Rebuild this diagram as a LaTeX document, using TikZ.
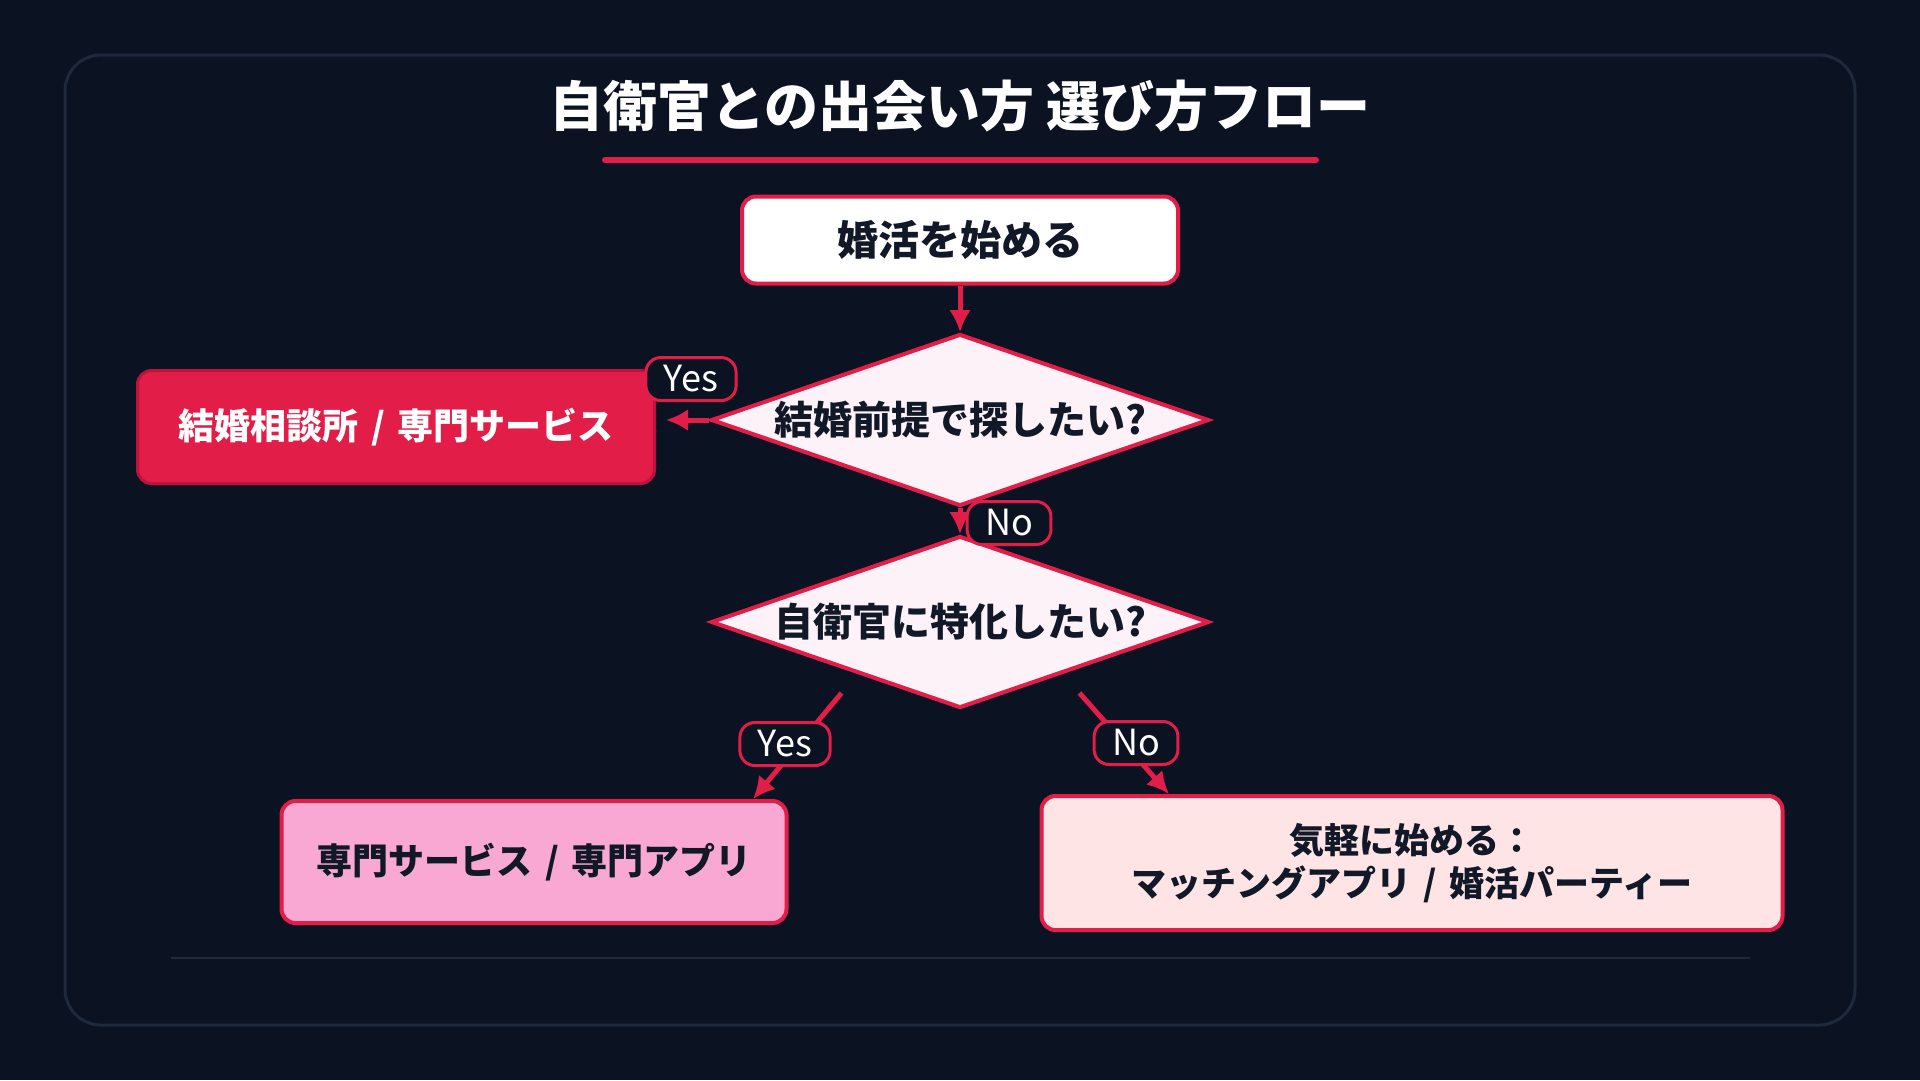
\documentclass[tikz,border=0pt]{standalone}
\usepackage{fontspec}
\setmainfont{Noto Sans CJK JP}
\usetikzlibrary{shapes.geometric,arrows.meta}

\definecolor{bgdark}{HTML}{0B1222}
\definecolor{frameline}{HTML}{1E293B}
\definecolor{rosered}{HTML}{E11D48}
\definecolor{rosedark}{HTML}{BE123C}
\definecolor{pinkpale}{HTML}{FDF2F8}
\definecolor{pinkmid}{HTML}{F9A8D4}
\definecolor{roselight}{HTML}{FFE4E6}
\definecolor{inkdark}{HTML}{111827}

\newcommand{\slashsep}{\hspace{0.36em}/\hspace{0.36em}}

\begin{document}
\begin{tikzpicture}[x=1pt, y=-1pt, node distance=180pt]
    \tikzset{
    box/.style={
        rectangle,
        draw=rosered,
        line width=4pt,
        rounded corners=14pt,
        align=center,
        text=inkdark,
        font=\bfseries\fontsize{36}{43}\selectfont
    },
    choice/.style={
        diamond,
        draw=rosered,
        line width=4pt,
        fill=pinkpale,
        aspect=2.9,
        inner sep=0pt,
        minimum width=498pt,
        minimum height=172pt,
        text=inkdark,
        font=\bfseries\fontsize{39}{45}\selectfont
    },
    badge/.style={
        rectangle,
        rounded corners=15pt,
        draw=rosered,
        line width=3pt,
        fill=bgdark,
        text=white,
        inner xsep=18pt,
        inner ysep=0pt,
        minimum height=43pt,
        font=\fontsize{36}{40}\selectfont
    },
    arrow/.style={
        -{Latex[length=22pt,width=22pt]}, line width=5pt, draw=rosered
    }
}
    \fill[bgdark] (0,0) rectangle (1920,1080);
    \draw[frameline, line width=3pt, rounded corners=36pt] (65,55) rectangle (1855,1025);

    \node[text=white, font=\bfseries\fontsize{54}{60}\selectfont] (title) at (960,106) {自衛官との出会い方 選び方フロー};
    \draw[rosered, line width=6pt, line cap=round] (605,160) -- (1316,160);

    \node[box, fill=white, minimum width=436pt, minimum height=87pt, font=\bfseries\fontsize{41}{48}\selectfont] (start) at (960,240) {婚活を始める};
    \node[choice, below of = start] (marriage) {結婚前提で探したい?};
    \node[choice, below of = marriage, yshift=-22pt] (jsdf) {自衛官に特化したい?};
    \node[box, node distance=564pt, left of = marriage, yshift=-7pt, fill=rosered, draw=rosedark, line width=3pt, text=white, minimum width=517pt, minimum height=113pt] (agency) {結婚相談所\slashsep 専門サービス};
    \node[box, node distance=240pt, below of = jsdf, xshift=-426pt, fill=pinkmid, minimum width=505pt, minimum height=122pt] (special) {専門サービス\slashsep 専門アプリ};
    \node[box, node distance=241pt, below of = jsdf, xshift=452pt, fill=roselight, minimum width=741pt, minimum height=134pt, font=\bfseries\fontsize{35}{43}\selectfont] (casual) {気軽に始める：\\マッチングアプリ\slashsep 婚活パーティー};

    \draw[frameline, line width=2pt] (171,958) -- (1750,958);

    % 矢印
    \draw[arrow] (start) -- (marriage);
    \draw[arrow, shorten >=10pt] (marriage.west) -- (marriage.west -| agency.east);
    \draw[arrow] (marriage) -- (jsdf);
    \draw[arrow] ([shift={(7pt,-27pt)}]jsdf.south west) -- ([xshift=219pt]special.north);
    \draw[arrow] ([shift={(-6pt,-27pt)}]jsdf.south east) -- ([xshift=-243pt]casual.north);

    % ラベル
    \node[badge] (yes1) at (691,379) {Yes};
    \node[badge] (no1) at (1009,523) {No};
    \node[badge] (yes2) at (785,744) {Yes};
    \node[badge] (no2) at (1136,743) {No};
\end{tikzpicture}
\end{document}
